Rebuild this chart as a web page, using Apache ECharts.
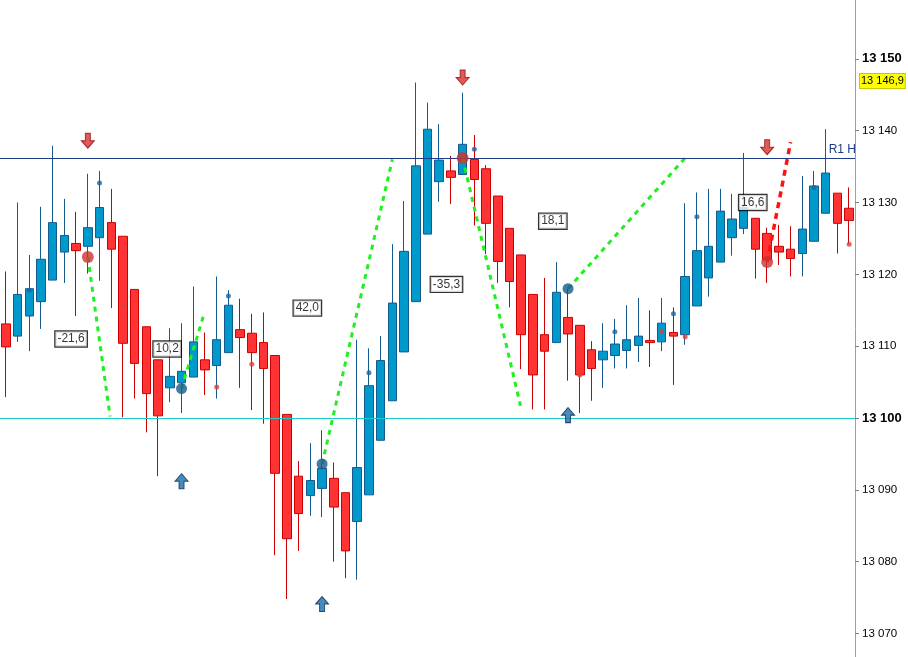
<!DOCTYPE html>
<html>
<head>
<meta charset="utf-8">
<script src="https://cdn.jsdelivr.net/npm/echarts@6/dist/echarts.min.js"></script>
<style>
html,body{margin:0;padding:0;background:#fff;}
#chart{width:908px;height:657px;}
</style>
</head>
<body>
<div id="chart"></div>
<script>
// ---- DATA ----
const opens  = [13113.1,13111.4,13114.2,13116.2,13119.2,13123.1,13124.3,13123.9,13125.1,13127.2,
                13125.3,13117.9,13112.7,13108.1,13104.2,13104.9,13105.7,13108.1,13107.3,13109.1,
                13112.3,13111.8,13110.5,13108.7,13100.5,13091.9,13089.2,13090.2,13091.6,13089.6,
                13085.6,13089.3,13096.9,13102.4,13109.2,13116.2,13125.6,13132.9,13134.4,13133.9,
                13136.0,13134.7,13130.9,13126.4,13122.7,13117.2,13111.6,13110.5,13114.0,13112.9,
                13109.5,13108.1,13108.7,13109.4,13110.1,13110.8,13110.6,13111.9,13111.6,13115.6,
                13119.5,13121.7,13125.1,13126.4,13127.8,13125.7,13123.9,13123.5,13122.9,13124.6,
                13128.5,13131.3,13129.2];
const closes = [13109.9,13117.2,13118.0,13122.1,13127.2,13125.4,13123.3,13126.5,13129.3,13123.5,
                13110.4,13107.6,13103.4,13100.3,13105.8,13106.5,13110.6,13106.7,13110.9,13115.7,
                13111.2,13109.1,13106.9,13092.3,13083.2,13086.7,13091.3,13093.0,13087.6,13081.5,
                13093.1,13104.5,13108.0,13116.0,13123.2,13135.1,13140.2,13135.9,13133.5,13138.1,
                13133.2,13127.1,13121.8,13119.0,13111.6,13106.0,13109.3,13117.5,13111.7,13106.0,
                13106.9,13109.3,13110.3,13110.9,13111.4,13110.5,13113.2,13111.4,13119.7,13123.3,
                13123.9,13128.8,13127.7,13129.3,13123.5,13122.0,13123.1,13122.2,13126.3,13132.3,
                13134.1,13127.1,13127.5];
const lows   = [13102.9,13110.6,13109.3,13112.4,13119.2,13118.8,13114.2,13120.1,13119.1,13115.3,
                13100.1,13102.7,13098.0,13091.9,13102.2,13100.7,13105.7,13103.2,13102.7,13109.1,
                13104.2,13101.1,13099.2,13080.9,13074.8,13081.5,13086.4,13086.2,13080.0,13077.7,
                13077.5,13089.3,13096.9,13102.4,13109.2,13116.2,13125.6,13130.1,13129.8,13133.9,
                13126.8,13122.8,13118.8,13115.4,13106.8,13101.2,13101.2,13110.5,13105.2,13100.7,
                13102.4,13104.2,13106.9,13106.9,13107.8,13107.1,13109.3,13104.6,13110.2,13115.6,
                13116.9,13121.7,13122.6,13125.6,13119.4,13118.8,13121.3,13119.7,13119.7,13124.6,
                13128.5,13122.9,13124.2];
const highs  = [13120.4,13130.0,13122.7,13129.4,13137.9,13130.5,13128.7,13134.0,13134.4,13131.9,
                13125.3,13117.9,13112.7,13108.1,13112.5,13113.2,13118.3,13111.9,13119.7,13117.8,
                13116.6,13114.5,13114.7,13108.7,13100.5,13094.0,13096.5,13098.3,13093.8,13089.6,
                13110.9,13109.7,13111.4,13124.2,13130.2,13146.7,13143.9,13140.9,13136.5,13145.3,
                13139.4,13135.2,13130.9,13126.4,13122.7,13117.2,13119.5,13121.7,13118.0,13112.9,
                13110.7,13113.2,13113.8,13115.7,13116.7,13115.0,13116.7,13115.4,13129.9,13131.4,
                13131.9,13131.9,13131.2,13136.9,13127.8,13126.5,13126.9,13126.7,13133.7,13134.4,
                13140.2,13131.3,13132.1];
const categories = opens.map((_, i) => String(i + 1));

// visible price range and tick labels
const priceMin = 13066.73;
const priceMax = 13158.19;
const yTicks = [13070,13080,13090,13100,13110,13120,13130,13140,13150];
const boldTicks = [13100,13150];

const supportLevel = 13100;
const r1Level = 13136.2;
const r1Label = 'R1 H';
const lastPrice = 13146.9;
const lastPriceLabel = '13 146,9';

// pivot markers
const pivotHighIdx   = [7, 39, 65];
const pivotHighPrice = [13122.4, 13136.2, 13121.7];
const pivotLowIdx    = [15, 27, 48];
const pivotLowPrice  = [13104.1, 13093.6, 13118.0];
const downArrowIdx   = [7, 39, 65];
const downArrowPrice = [13138.6, 13147.4, 13137.7];
const upArrowIdx     = [15, 27, 48];
const upArrowPrice   = [13091.2, 13074.1, 13100.4];

// small dots
const blueDotIdx   = [2, 8, 19, 31, 40, 52, 57, 59, 69];
const blueDotPrice = [13117.8, 13132.7, 13117.0, 13106.3, 13137.4, 13112.0, 13114.5, 13128.0, 13132.1];
const redDotIdx    = [10, 18, 21, 29, 41, 49, 56, 58, 72];
const redDotPrice  = [13115.7, 13104.3, 13107.5, 13083.5, 13128.9, 13106.0, 13112.0, 13111.3, 13124.2];

// projection segments
const greenSegStartIdx   = [7, 15, 27, 39, 48];
const greenSegStartPrice = [13122.4, 13104.1, 13093.6, 13136.2, 13118.0];
const greenSegEndIdx     = [8.9, 16.94, 33.0, 43.94, 58.05];
const greenSegEndPrice   = [13100.2, 13114.6, 13136.0, 13101.7, 13136.3];
const redSegStartIdx   = [65];
const redSegStartPrice = [13121.7];
const redSegEndIdx     = [67.0];
const redSegEndPrice   = [13138.4];

// boxed labels
const boxLabelText  = ['-21,6', '10,2', '42,0', '-35,3', '18,1', '16,6'];
const boxLabelIdx   = [5.57, 13.77, 25.74, 37.62, 46.7, 63.77];
const boxLabelPrice = [13111.0, 13109.6, 13115.3, 13118.6, 13127.4, 13130.0];

// ---- CHART ----
const FONT = '"Liberation Sans", Arial, sans-serif';
const fmtPrice = v => {
  const th = Math.floor(v / 1000);
  const rest = String(Math.round(v - th * 1000)).padStart(3, '0');
  return th + ' ' + rest;
};

const candleData = opens.map((o, i) => [o, closes[i], lows[i], highs[i]]);
const zip = (a, b) => a.map((v, i) => [v, b[i]]);

const downArrowPath = 'path://M4,0 L9,0 L9,7 L13,7 L6.5,14 L0,7 L4,7 Z';
const upArrowPath   = 'path://M6.5,0 L13,7 L9,7 L9,14 L4,14 L4,7 L0,7 Z';

const series = [];
series.push({
  type: 'candlestick',
  name: 'price',
  xAxisIndex: 0, yAxisIndex: 0,
  data: candleData,
  barWidth: 9,
  itemStyle: {
    color: '#0099cc', color0: '#ff3333',
    borderColor: '#15598d', borderColor0: '#cc0000',
    borderWidth: 1
  },
  markLine: {
    silent: true, symbol: 'none', animation: false,
    data: [
      { yAxis: supportLevel, lineStyle: { color: '#1ccccc', width: 1, type: 'solid' }, label: { show: false } },
      { yAxis: r1Level, lineStyle: { color: '#1d3b86', width: 1, type: 'solid' },
        label: { show: true, position: 'insideEndTop', formatter: r1Label, color: '#1d3b86',
                 fontFamily: FONT, fontSize: 12, distance: [-1, 2] } },
      { yAxis: lastPrice, lineStyle: { color: 'rgba(0,0,0,0)', width: 0 },
        label: { show: true, position: 'end', formatter: lastPriceLabel, color: '#000',
                 fontFamily: FONT, fontSize: 11, backgroundColor: '#ffff00',
                 borderColor: '#c8c800', borderWidth: 1, padding: [2, 1, 1, 1], distance: 5 } }
    ]
  },
  z: 2
});

greenSegStartIdx.forEach((s, i) => {
  series.push({
    type: 'line', xAxisIndex: 1, yAxisIndex: 0, symbol: 'none', silent: true,
    data: [[s, greenSegStartPrice[i]], [greenSegEndIdx[i], greenSegEndPrice[i]]],
    lineStyle: { color: '#22ee22', width: 3, type: [5, 5] }, z: 3
  });
});
redSegStartIdx.forEach((s, i) => {
  series.push({
    type: 'line', xAxisIndex: 1, yAxisIndex: 0, symbol: 'none', silent: true,
    data: [[s, redSegStartPrice[i]], [redSegEndIdx[i], redSegEndPrice[i]]],
    lineStyle: { color: '#ff1111', width: 3.5, type: [6, 5] }, z: 3
  });
});

series.push({
  type: 'scatter', xAxisIndex: 1, yAxisIndex: 0, symbolSize: 5, silent: true,
  data: zip(blueDotIdx, blueDotPrice), itemStyle: { color: '#1a64a0' }, z: 4
});
series.push({
  type: 'scatter', xAxisIndex: 1, yAxisIndex: 0, symbolSize: 5, silent: true,
  data: zip(redDotIdx, redDotPrice), itemStyle: { color: '#d84040' }, z: 4
});
series.push({
  type: 'scatter', xAxisIndex: 1, yAxisIndex: 0, symbolSize: 12, silent: true,
  data: zip(pivotHighIdx, pivotHighPrice), itemStyle: { color: '#cc3333' }, z: 5
});
series.push({
  type: 'scatter', xAxisIndex: 1, yAxisIndex: 0, symbolSize: 11, silent: true,
  data: zip(pivotLowIdx, pivotLowPrice), itemStyle: { color: '#15598d' }, z: 5
});
series.push({
  type: 'scatter', xAxisIndex: 1, yAxisIndex: 0, symbol: downArrowPath, symbolSize: [13, 15], silent: true,
  data: zip(downArrowIdx, downArrowPrice),
  itemStyle: { color: '#dd2e2e', borderColor: '#8a0c0c', borderWidth: 1 }, z: 5
});
series.push({
  type: 'scatter', xAxisIndex: 1, yAxisIndex: 0, symbol: upArrowPath, symbolSize: [13, 15], silent: true,
  data: zip(upArrowIdx, upArrowPrice),
  itemStyle: { color: '#1a6eaa', borderColor: '#0a2a55', borderWidth: 1 }, z: 5
});
series.push({
  type: 'scatter', xAxisIndex: 1, yAxisIndex: 0, symbolSize: 0, silent: true,
  data: boxLabelIdx.map((x, i) => ({ value: [x, boxLabelPrice[i]], name: boxLabelText[i] })),
  label: {
    show: true, position: 'inside', formatter: p => p.name,
    color: '#000', fontFamily: FONT, fontSize: 12,
    backgroundColor: '#fff', borderColor: '#000', borderWidth: 1.2, padding: [2, 2, 1, 2]
  },
  z: 6
});

const option = {
  animation: false,
  backgroundColor: '#fff',
  grid: { left: 0, top: 0, width: 855, height: 657, containLabel: false },
  xAxis: [
    { type: 'category', data: categories, show: false, boundaryGap: true },
    { type: 'value', min: -0.5, max: categories.length - 0.5, show: false }
  ],
  yAxis: [{
    type: 'value', position: 'right', min: priceMin, max: priceMax,
    splitLine: { show: false },
    axisLine: { show: true, onZero: false, lineStyle: { color: '#a0a0a0', width: 1 } },
    axisTick: { show: true, length: 4, customValues: yTicks, lineStyle: { color: '#808080' } },
    axisLabel: {
      margin: 7, color: '#000', fontFamily: FONT, fontSize: 11.5,
      customValues: yTicks,
      formatter: v => {
        const s = fmtPrice(v);
        return boldTicks.includes(v) ? '{b|' + s + '}' : s;
      },
      rich: { b: { fontWeight: 'bold', fontSize: 13, fontFamily: FONT, color: '#000' } }
    }
  }],
  series: series
};

const chart = echarts.init(document.getElementById('chart'), null, { renderer: 'canvas' });
chart.setOption(option);
</script>
</body>
</html>
